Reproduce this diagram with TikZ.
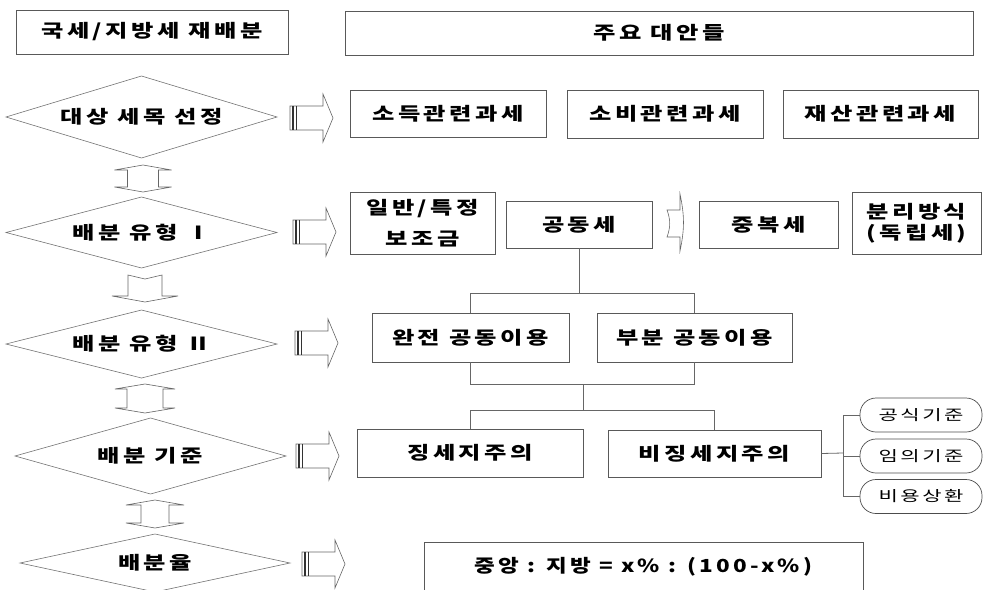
\documentclass[tikz,border=0pt]{standalone}
\usepackage{fontspec}
\usetikzlibrary{shapes.geometric}
\newfontfamily\krb{Noto Sans CJK KR}[LetterSpace=14]
\newfontfamily\krr{Noto Sans CJK KR}[LetterSpace=12]
\newcommand\sx[1]{\scalebox{1.35}[1]{#1}}
\newcommand\so[1]{\scalebox{1.45}[1]{#1}}
\newcommand\rblk[2]{%
  \draw[blk] (#1,#2-12) -- ++(33,0) -- ++(0,-12) -- ++(10,24) -- ++(-10,24) -- ++(0,-12) -- ++(-33,0) -- cycle;
  \draw[line width=1.6pt,black!80] (#1+3,#2-12) -- (#1+3,#2+12);
  \draw[line width=1.6pt,black!80] (#1+6.5,#2-12) -- (#1+6.5,#2+12);}
\newcommand\vdbl[5]{% cx, ytop, ybot, shaft half, head half
  \draw[blk] (#1,#2) -- (#1+#5,#2+5) -- (#1+#4,#2+5) -- (#1+#4,#3-5) -- (#1+#5,#3-5) -- (#1,#3)
    -- (#1-#5,#3-5) -- (#1-#4,#3-5) -- (#1-#4,#2+5) -- (#1-#5,#2+5) -- cycle;}
\newcommand\diam[3]{% node, half width, half height
  \draw[dline] (#1.center) +(-#2,0) -- +(0,-#3) -- +(#2,0) -- +(0,#3) -- cycle;}
\begin{document}
\begin{tikzpicture}[x=1pt,y=-1pt,
  box/.style={draw=black!65,line width=0.8pt,inner sep=0pt,align=center,
    font=\krb\bfseries\fontsize{18}{21}\selectfont},
  dtext/.style={inner sep=0pt,font=\krb\bfseries\fontsize{18}{21}\selectfont},
  dline/.style={draw=black!55,line width=0.6pt},
  oval/.style={draw=black!70,line width=0.7pt,rounded corners=16pt,inner sep=0pt,
    minimum width=122,minimum height=34,font=\krr\fontsize{14.5}{18}\selectfont},
  blk/.style={draw=black!60,line width=0.6pt,fill=white,line join=miter},
  conn/.style={draw=black!60,line width=0.8pt}]
\useasboundingbox (0,0) rectangle (985,589);

% header boxes
\node[box,minimum width=272,minimum height=44] (title) at (152,32) {\sx{국세/지방세 재배분}};
\node[box,minimum width=628,minimum height=44] (head) at (659,33) {\sx{주요 대안들}};

% diamonds
\node[dtext] (D1) at (141.5,117) {\sx{대상 세목 선정}};
\node[dtext] (D2) at (141.5,232.5) {\sx{배분 유형 Ⅰ}};
\node[dtext] (D3) at (141.5,344) {\sx{배분 유형 Ⅱ}};
\node[dtext] (D4) at (150.5,456) {\sx{배분 기준}};
\node[dtext] (D5) at (155,563) {\sx{배분율}};
\diam{D1}{135.5}{41}
\diam{D2}{135.5}{35.5}
\diam{D3}{135.5}{34}
\diam{D4}{135.5}{38}
\diam{D5}{135}{29}

% vertical arrows between diamonds
\vdbl{143}{165}{192}{15.5}{28.5}
\draw[blk] (128,275) -- (145,279) -- (162,275) -- (162,296) -- (178,296) -- (145,302)
  -- (112,296) -- (128,296) -- cycle;
\vdbl{145}{384}{413}{18}{30}
\vdbl{155}{500}{528}{14}{29}

% right block arrows
\rblk{290}{118}
\rblk{293}{232}
\rblk{295}{343}
\rblk{296}{456}
\rblk{302}{564}

% row 1
\node[box,minimum width=196,minimum height=47] (a1) at (448,113.5) {\sx{소득관련과세}};
\node[box,minimum width=196,minimum height=48] (a2) at (665,114) {\sx{소비관련과세}};
\node[box,minimum width=195,minimum height=48] (a3) at (880.5,114) {\sx{재산관련과세}};

% row 2
\node[box,minimum width=145,minimum height=62] (b1) at (422.5,223) {\sx{일반/특정}\\[10pt]\sx{보조금}};
\node[box,minimum width=146,minimum height=47] (b2) at (579,224.5) {\sx{공동세}};
\node[box,minimum width=139,minimum height=47] (b3) at (768.5,224.5) {\sx{중복세}};
\node[box,minimum width=129,minimum height=62] (b4) at (916.5,223) {\sx{분리방식}\\\sx{(독립세)}};
\draw[blk] (667,210) to[bend left=20] (667,237) -- (680,237) -- (680,251)
  to[bend right=12] (680,194) -- (680,210) -- cycle;

% row 3
\node[box,minimum width=197,minimum height=49] (c1) at (470.5,337.5) {\sx{완전 공동이용}};
\node[box,minimum width=195,minimum height=49] (c2) at (694.5,337.5) {\sx{부분 공동이용}};

% row 4
\node[box,minimum width=226,minimum height=48] (d1) at (470,453) {\sx{징세지주의}};
\node[box,minimum width=213,minimum height=47] (d2) at (714.5,453.5) {\sx{비징세지주의}};
\node[oval] (o1) at (921,415) {\so{공식기준}};
\node[oval] (o2) at (921,456) {\so{임의기준}};
\node[oval] (o3) at (921,496.5) {\so{비용상환}};

% row 5
\node[box,minimum width=439,minimum height=50] (e) at (643.5,567) {\scalebox{1.25}[1]{중앙 : 지방 = x\% : (100-x\%)}};

% tree connectors
\coordinate (j1) at (579,293);
\coordinate (j2) at (583,384);
\coordinate (j3) at (583,410);
\coordinate (bus) at (843,453);
\draw[conn] (b2.south) -- (j1);
\draw[conn] (c1.north) -- (c1.north |- j1) -- (c2.north |- j1) -- (c2.north);
\draw[conn] (c1.south) -- (c1.south |- j2) -- (c2.south |- j2) -- (c2.south);
\draw[conn] (j2) -- (j3);
\draw[conn] (d1.north) -- (d1.north |- j3) -- (d2.north |- j3) -- (d2.north);
\draw[conn] (d2.east) -- (bus);
\draw[conn] (o1.west) -- (o1.west -| bus) -- (o3.west -| bus) -- (o3.west);
\draw[conn] (o2.west) -- (o2.west -| bus);
\end{tikzpicture}
\end{document}
